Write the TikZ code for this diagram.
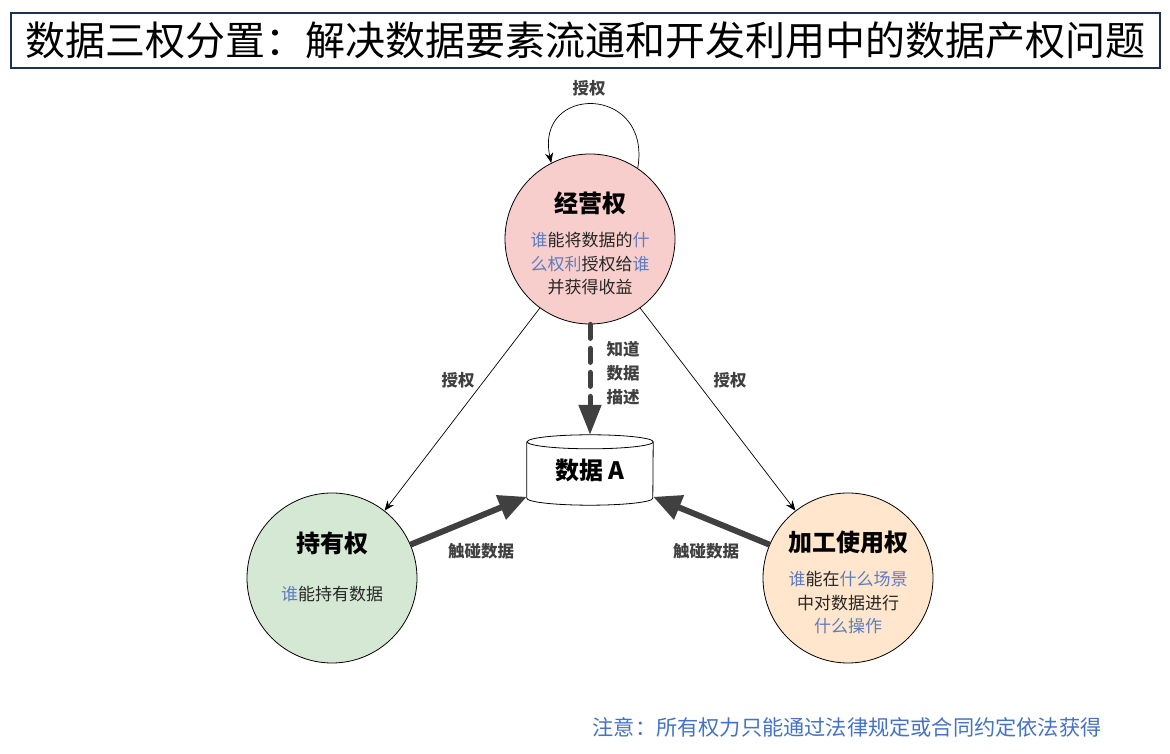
\documentclass[tikz,border=0pt]{standalone}
\usepackage{fontspec}
\setmainfont{Noto Sans CJK SC}
\usepackage{xcolor}
\usetikzlibrary{arrows.meta}
\definecolor{jyqfill}{RGB}{248, 206, 204}
\definecolor{cyqfill}{RGB}{213, 232, 212}
\definecolor{jgfill}{RGB}{255, 230, 204}
\definecolor{keyblue}{RGB}{94, 124, 190}
\definecolor{noteblue}{RGB}{68, 114, 196}
\definecolor{darkline}{RGB}{64, 64, 64}
\definecolor{titleframe}{RGB}{31, 48, 80}

\tikzset{
	quan/.style={circle, draw=black, line width=0.8pt, minimum size=170pt, inner sep=0pt},
	quantitle/.style={font=\bfseries\fontsize{24}{28}\selectfont},
	quantext/.style={font=\fontsize{17}{23.5}\selectfont, align=center, text=black!85},
	edgelbl/.style={font=\bfseries\fontsize{16.5}{24}\selectfont, text=darkline, align=center},
	authedge/.style={draw=black, line width=0.7pt, -{Stealth[length=10pt, width=8pt]}},
	touchedge/.style={draw=darkline, line width=6pt, -{Triangle[length=28pt, width=25pt]}}
}
\newcommand{\hl}[1]{\textcolor{keyblue}{#1}}

\begin{document}
\begin{tikzpicture}[x=1pt, y=1pt]
	\useasboundingbox (0,0) rectangle (1170,754);

	\node[draw=titleframe, line width=1.6pt, minimum width=1149pt, minimum height=55pt, inner sep=0pt,
		font=\fontsize{40}{46}\selectfont] (title) at (585.5, 713.5) {数据三权分置：解决数据要素流通和开发利用中的数据产权问题};

	\node[quan, fill=jyqfill] (jyq) at (590, 515) {};
	\node[quan, fill=cyqfill] (cyq) at (332, 176) {};
	\node[quan, fill=jgfill] (jg) at (848, 176) {};

	\node[quantitle] (jyqtitle) at (590, 551) {经营权};
	\node[quantext] (jyqtext) at (590, 490) {\hl{谁}能将数据的\hl{什}\\\hl{么权利}授权给\hl{谁}\\并获得收益};
	\node[quantitle] (cyqtitle) at (332, 211) {持有权};
	\node[quantext] (cyqtext) at (332, 160) {\hl{谁}能持有数据};
	\node[quantitle] (jgtitle) at (848, 212) {加工使用权};
	\node[quantext] (jgtext) at (848, 151) {\hl{谁}能在\hl{什么场景}\\中对数据进行\\\hl{什么操作}};

	\node[minimum width=126pt, minimum height=70pt, inner sep=0pt,
		font=\bfseries\fontsize{24}{28}\selectfont] (data) at (590, 284) {数据 A};
	\draw[line width=0.8pt] ([yshift=-7pt]data.north west) -- ([yshift=7pt]data.south west)
		arc[start angle=180, end angle=360, x radius=63pt, y radius=7pt]
		-- ([yshift=-7pt]data.north east)
		arc[start angle=0, end angle=180, x radius=63pt, y radius=7pt]
		arc[start angle=180, end angle=360, x radius=63pt, y radius=7pt];

	\draw[authedge] (jyq.56) .. controls (652, 670) and (534, 670) .. (jyq.117);
	\draw[authedge] (jyq.234) -- (cyq.52);
	\draw[authedge] (jyq.306) -- (jg.128);
	\draw[draw=darkline, line width=5pt, dash pattern=on 14pt off 10pt, line cap=round,
		-{Triangle[length=30pt, width=22pt]}] (jyq.south) -- (data.north);
	\draw[touchedge] (cyq.23) -- (data.203);
	\draw[touchedge] (jg.157) -- (data.337);

	\node[edgelbl] (selfauth) at (589, 666) {授权};
	\node[edgelbl] (lauth) at (458, 374) {授权};
	\node[edgelbl] (rauth) at (730, 374) {授权};
	\node[edgelbl] (desc) at (623, 381) {知道\\数据\\描述};
	\node[edgelbl] (ltouch) at (481, 203) {触碰数据};
	\node[edgelbl] (rtouch) at (706, 203) {触碰数据};

	\node[font=\fontsize{21.2}{26}\selectfont, text=noteblue] (note) at (847, 27) {注意：所有权力只能通过法律规定或合同约定依法获得};
\end{tikzpicture}
\end{document}
